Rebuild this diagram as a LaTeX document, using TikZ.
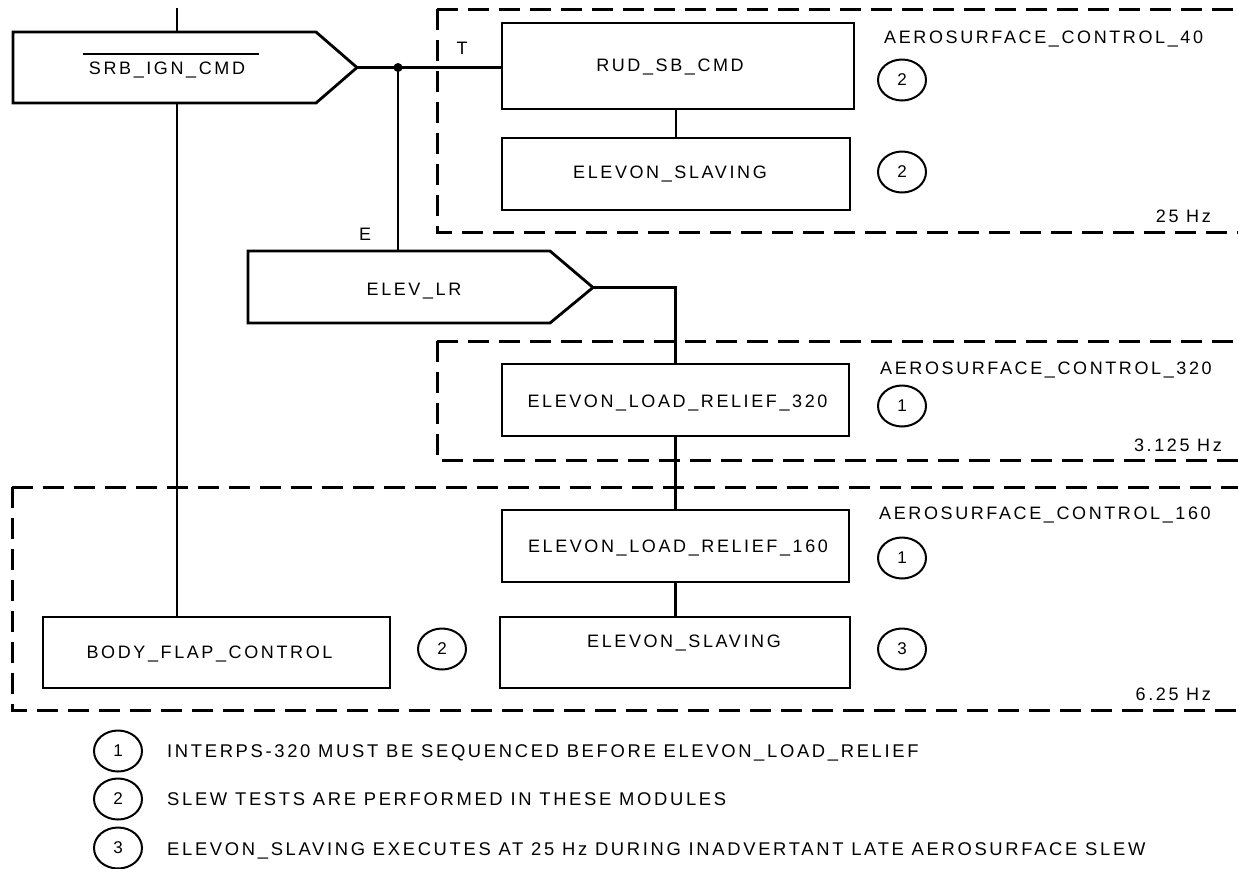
\documentclass[tikz,border=0pt]{standalone}
\usepackage{fontspec}
\setmainfont{Liberation Sans}[LetterSpace=14.5]
\usetikzlibrary{shapes.geometric}
\newcommand\lblfont{\fontsize{18}{21}\selectfont}
\newcommand\legfont{\fontsize{18.4}{21}\selectfont}
\newcommand\numfont{\fontsize{17}{20}\selectfont\addfontfeatures{LetterSpace=0}}
\tikzset{
  blk/.style={draw, line width=2.8pt, rectangle, inner sep=0pt},
  conn/.style={line width=2.2pt},
  dashbox/.style={line width=3pt, dash pattern=on 21pt off 10pt},
  lbl/.style={inner sep=0pt, font=\lblfont, anchor=base},
  legtext/.style={inner sep=0pt, font=\legfont, anchor=base west},
  note/.style={draw, ellipse, line width=2pt, minimum width=48pt, minimum height=41pt, inner sep=0pt, font=\numfont},
  pent/.style={draw, line width=2.8pt, line join=miter},
}
\begin{document}
\begin{tikzpicture}[x=1pt,y=-1pt]
\useasboundingbox (0,0) rectangle (1238,868);
\clip (0,0) rectangle (1238,868);
\fill[white] (0,0) rectangle (1238,868);

% dashed rate groups
\draw[dashbox] (437,9) -- (1250,9);
\draw[dashbox] (437,9) -- (437,232) -- (1250,232);
\draw[dashbox] (437,341) -- (1250,341);
\draw[dashbox] (437,341) -- (437,460) -- (1250,460);
\draw[dashbox] (12,487) -- (1250,487);
\draw[dashbox] (12,487) -- (12,710) -- (1250,710);

% pentagon decision shapes
\draw[pent] (13,32) -- (316,32) -- (357,67.5) -- (316,103) -- (13,103) -- cycle;
\coordinate (srbtop) at (177,32);
\coordinate (srbbot) at (177,103);
\coordinate (srbtip) at (357,67.5);
\coordinate (topend) at (177,8);
\node[lbl] (srbt) at (167,74) {SRB\_IGN\_CMD};
\draw[line width=2.5pt] (83,54) -- (259,54);

\draw[pent] (248,251) -- (550,251) -- (593,287.5) -- (550,323) -- (248,323) -- cycle;
\coordinate (elevtop) at (398,251);
\coordinate (elevtip) at (593,287.5);
\node[lbl] (elevt) at (414,295) {ELEV\_LR};

% module boxes
\node[blk, minimum width=352pt, minimum height=86pt] (rud) at (678,66) {};
\node[lbl] at (670,71) {RUD\_SB\_CMD};
\node[blk, minimum width=348pt, minimum height=72pt] (es1) at (676,174) {};
\node[lbl] at (670,178) {ELEVON\_SLAVING};
\node[blk, minimum width=347pt, minimum height=72pt] (elr320) at (675.5,400) {};
\node[lbl] at (677.5,407) {ELEVON\_LOAD\_RELIEF\_320};
\node[blk, minimum width=347pt, minimum height=72pt] (elr160) at (675.5,546) {};
\node[lbl] at (678,552) {ELEVON\_LOAD\_RELIEF\_160};
\node[blk, minimum width=350pt, minimum height=71pt] (es2) at (675,652.5) {};
\node[lbl] at (684,647) {ELEVON\_SLAVING};
\node[blk, minimum width=347pt, minimum height=71pt] (bfc) at (216.5,652.5) {};
\node[lbl] at (209.5,658) {BODY\_FLAP\_CONTROL};

% connectors
\coordinate (dot) at (398,67.5);
\draw[conn] (topend) -- (srbtop);
\draw[conn] (srbbot) -- (srbbot |- bfc.north);
\draw[conn] (srbtip) -- (dot) -- (dot -| rud.west);
\draw[conn] (dot) -- (elevtop);
\fill (dot) circle (4.5);
\draw[conn] (elevtip) -| (elr320.north);
\draw[conn] (es1.north |- rud.south) -- (es1.north);
\draw[conn] (elr320.south) -- (elr160.north);
\draw[conn] (elr160.south) -- (elr160.south |- es2.north);

% branch labels
\node[lbl] (tl) at (462,54) {T};
\node[lbl] (el) at (365,240) {E};

% group labels
\node[lbl, anchor=base west] at (884,43) {AEROSURFACE\_CONTROL\_40};
\node[lbl, anchor=base east] at (1211,222) {25 Hz};
\node[lbl, anchor=base west] at (880,374) {AEROSURFACE\_CONTROL\_320};
\node[lbl, anchor=base east] at (1222,451) {3.125 Hz};
\node[lbl, anchor=base west] at (879,519) {AEROSURFACE\_CONTROL\_160};
\node[lbl, anchor=base east] at (1211,700) {6.25 Hz};

% note markers
\node[note] (n1) at (902,80) {2};
\node[note] (n2) at (902,172) {2};
\node[note] (n3) at (902,406) {1};
\node[note] (n4) at (902,558) {1};
\node[note] (n5) at (902,649) {3};
\node[note] (n6) at (442,649) {2};

% legend
\node[note] (l1) at (118,751) {1};
\node[note] (l2) at (118,799) {2};
\node[note] (l3) at (118,848) {3};
\node[legtext] at (167,757) {INTERPS-320 MUST BE SEQUENCED BEFORE ELEVON\_LOAD\_RELIEF};
\node[legtext] at (167,805) {SLEW TESTS ARE PERFORMED IN THESE MODULES};
\node[legtext] at (167,855) {ELEVON\_SLAVING EXECUTES AT 25 Hz DURING INADVERTANT LATE AEROSURFACE SLEW};
\end{tikzpicture}
\end{document}
